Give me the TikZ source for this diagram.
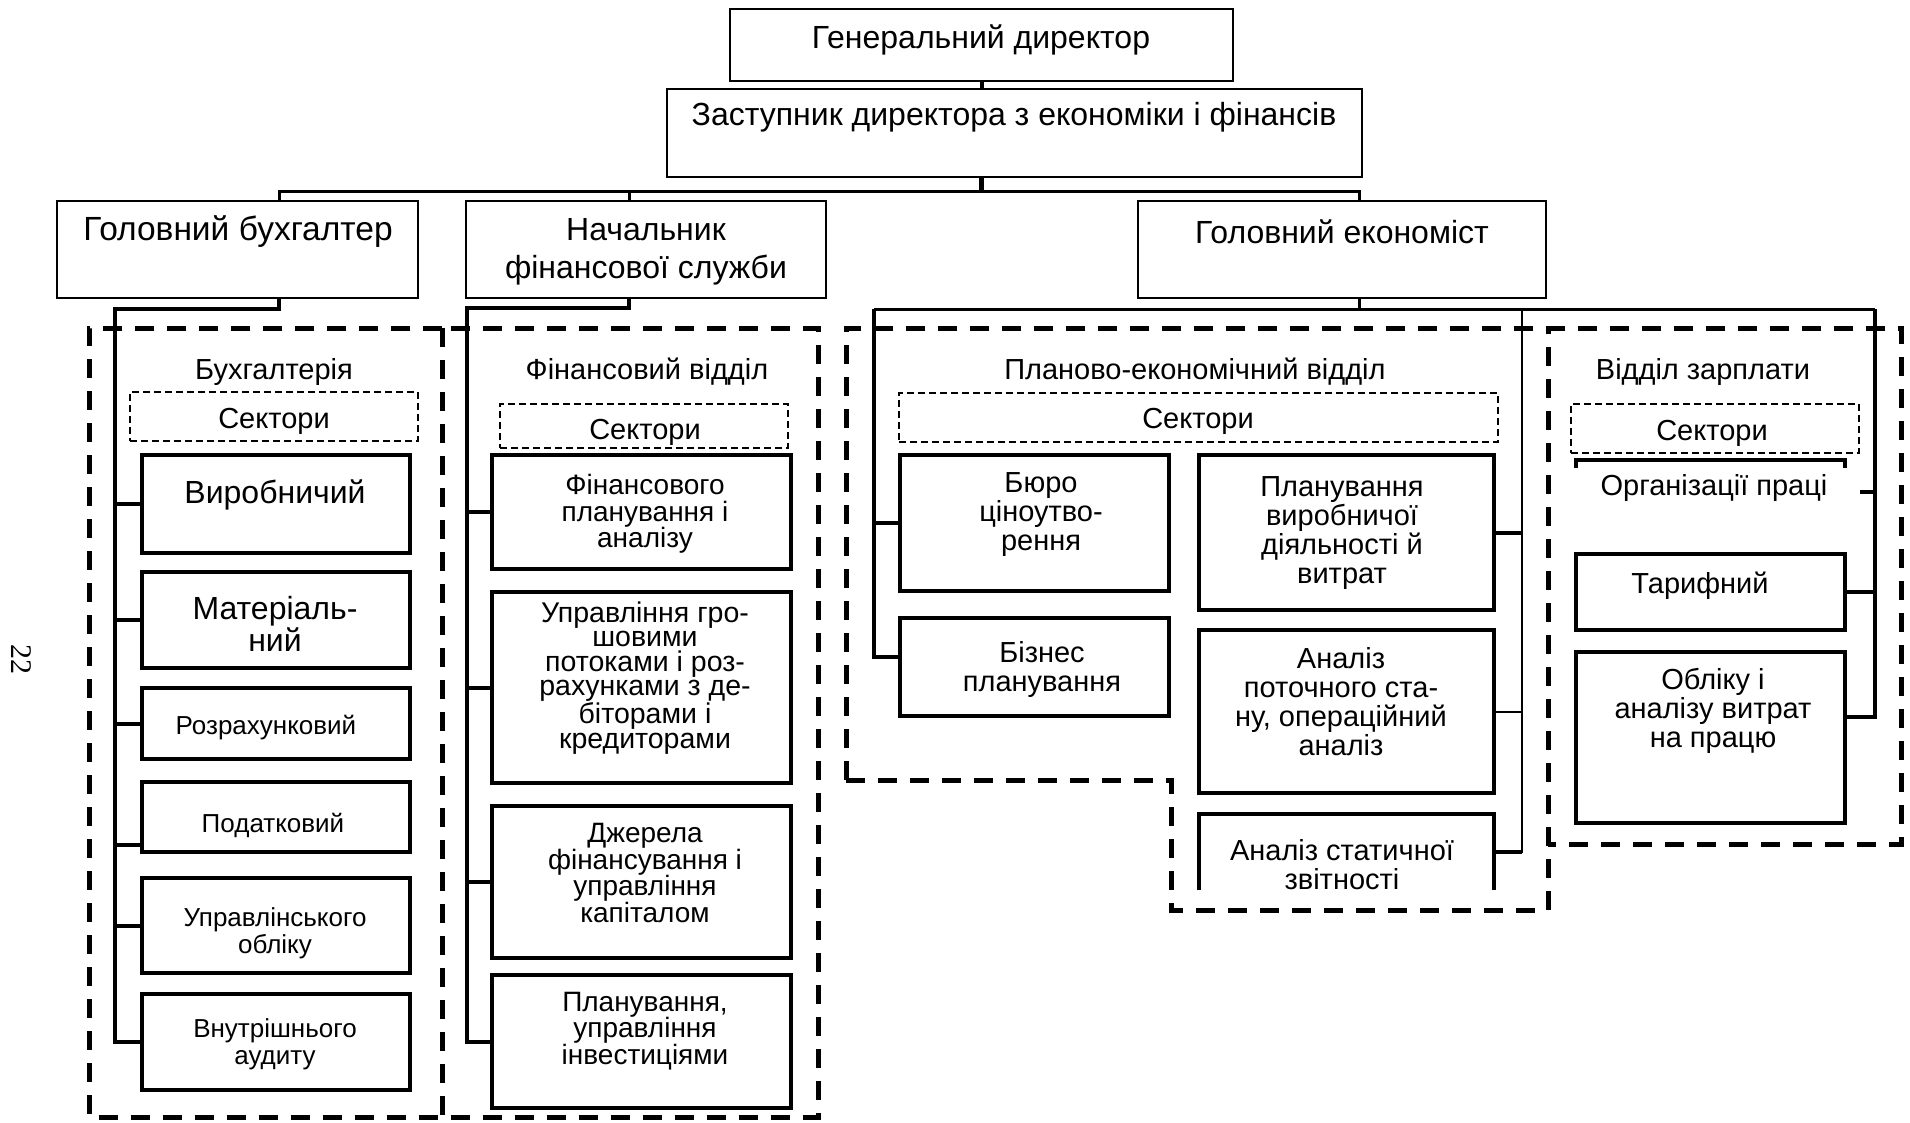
\documentclass[tikz,border=0pt]{standalone}
\usepackage{fontspec}
\setmainfont{Liberation Sans}
\newfontfamily\serifnum{Liberation Serif}
\usetikzlibrary{fit}
\begin{document}
\begin{tikzpicture}[x=1pt,y=-1pt,
  frame/.style={draw, line width=2pt, inner sep=0pt},
  unit/.style={draw, line width=4.5pt, inner sep=0pt},
  openunit/.style={inner sep=0pt},
  unitedge/.style={line width=4.5pt},
  sectors/.style={draw, line width=1.5pt, dash pattern=on 7pt off 4pt, inner sep=0pt},
  dept/.style={line width=5pt, dash pattern=on 19pt off 13pt},
  busline/.style={line width=3pt},
  spine/.style={line width=4pt},
  fine/.style={line width=2pt},
  lbl/.style={align=center, inner sep=0pt},
  tmain/.style={lbl, font=\fontsize{32}{38}\selectfont},
  ttitle/.style={lbl, font=\fontsize{29}{32}\selectfont},
  tlarge/.style={lbl, font=\fontsize{32}{28}\selectfont},
  tsmall/.style={lbl, font=\fontsize{26}{27}\selectfont},
  tmid/.style={lbl, font=\fontsize{28}{26.5}\selectfont},
  tplan/.style={lbl, font=\fontsize{29}{29}\selectfont},
]
\useasboundingbox (0,0) rectangle (1910,1123);
\fill[white] (0,0) rectangle (1910,1123);

% ---------- top management ----------
\node[frame, fit={(730,9) (1233,81)}] (gen) {};
\node[tmain] (gent) at (981,40) {Генеральний директор};
\node[frame, fit={(667,89) (1362,177)}] (zast) {};
\node[tmain] (zastt) at (1014,117) {Заступник директора з економіки і фінансів};

\node[frame, fit={(57,201) (418,298)}] (buh) {};
\node[tmain, font=\fontsize{33.5}{38}\selectfont] (buht) at (238,232) {Головний бухгалтер};
\node[frame, fit={(466,201) (826,298)}] (nach) {};
\node[tmain] (nacht) at (646,252) {Начальник\\фінансової служби};
\node[frame, fit={(1138,201) (1546,298)}] (econ) {};
\node[tmain] (econt) at (1342,232) {Головний економіст};

% ---------- department outlines ----------
\draw[dept] (442,328) -- (89,328) -- (89,1117) -- (818,1117) -- (818,328) -- cycle;
\draw[dept] (442,328) -- (442,1117);
\draw[dept] (846,780) -- (846,328) -- (1901,328) -- (1901,844) -- (1548,844);
\draw[dept] (846,780) -- (1171,780) -- (1171,910) -- (1548,910) -- (1548,328);

% ---------- department titles and sector headers ----------
\node[ttitle] (buhdep) at (274,372) {Бухгалтерія};
\node[ttitle] (findep) at (647,372) {Фінансовий відділ};
\node[ttitle] (pldep) at (1195,372) {Планово-економічний відділ};
\node[ttitle] (zrdep) at (1703,372) {Відділ зарплати};

\node[sectors, fit={(130,392) (418,441)}] (bs) {};
\node[ttitle] (bst) at (274,421) {Сектори};
\node[sectors, fit={(500,404) (788,448)}] (fs) {};
\node[ttitle] (fst) at (645,432) {Сектори};
\node[sectors, fit={(899,393) (1498,442)}] (ps) {};
\node[ttitle] (pst) at (1198,421) {Сектори};
\node[sectors, fit={(1571,404) (1859,453)}] (zs) {};
\node[ttitle] (zst) at (1712,433) {Сектори};

% ---------- accounting sectors ----------
\node[unit, fit={(142,455) (410,553)}] (b1) {};
\node[tlarge] (b1t) at (275,495) {Виробничий};
\node[unit, fit={(142,572) (410,668)}] (b2) {};
\node[tlarge] (b2t) at (275,624) {Матеріаль-\\ний};
\node[unit, fit={(142,688) (410,759)}] (b3) {};
\node[tsmall] (b3t) at (266,728) {Розрахунковий};
\node[unit, fit={(142,782) (410,852)}] (b4) {};
\node[tsmall] (b4t) at (273,825) {Податковий};
\node[unit, fit={(142,878) (410,973)}] (b5) {};
\node[tsmall] (b5t) at (275,933) {Управлінського\\обліку};
\node[unit, fit={(142,994) (410,1090)}] (b6) {};
\node[tsmall] (b6t) at (275,1044) {Внутрішнього\\аудиту};

% ---------- finance sectors ----------
\node[unit, fit={(492,455) (791,569)}] (f1) {};
\node[tmid] (f1t) at (645,514) {Фінансового\\планування і\\аналізу};
\node[unit, fit={(492,592) (791,783)}] (f2) {};
\node[lbl, font=\fontsize{28.5}{24.5}\selectfont] (f2t) at (645,678) {Управління гро-\\шовими\\потоками і роз-\\рахунками з де-\\біторами і\\кредиторами};
\node[unit, fit={(492,806) (791,958)}] (f3) {};
\node[tmid] (f3t) at (645,873) {Джерела\\фінансування і\\управління\\капіталом};
\node[unit, fit={(492,975) (791,1108)}] (f4) {};
\node[tmid] (f4t) at (645,1031) {Планування,\\управління\\інвестиціями};

% ---------- planning sectors ----------
\node[unit, fit={(900,455) (1169,591)}] (p1) {};
\node[tplan] (p1t) at (1041,515) {Бюро\\ціноутво-\\рення};
\node[unit, fit={(900,618) (1169,716)}] (p2) {};
\node[tplan] (p2t) at (1042,669) {Бізнес\\планування};
\node[unit, fit={(1199,455) (1494,610)}] (p3) {};
\node[tplan] (p3t) at (1342,533) {Планування\\виробничої\\діяльності й\\витрат};
\node[unit, fit={(1199,630) (1494,793)}] (p4) {};
\node[tplan] (p4t) at (1341,702) {Аналіз\\поточного ста-\\ну, операційний\\аналіз};
\node[openunit, fit={(1199,814) (1494,890)}] (p5) {};
\draw[unitedge] (p5.south west) |- (p5.north) -| (p5.south east);
\node[tplan] (p5t) at (1342,865) {Аналіз статичної\\звітності};

% ---------- payroll sectors ----------
\node[openunit, fit={(1576,460) (1845,520)}] (z1) {};
\draw[unitedge] (z1.north west) ++(0,8) -- ++(0,-8) -- (z1.north east) -- ++(0,8);
\node[tplan] (z1t) at (1714,488) {Організації праці};
\node[unit, fit={(1576,554) (1845,630)}] (z2) {};
\node[tplan] (z2t) at (1700,586) {Тарифний};
\node[unit, fit={(1576,652) (1845,823)}] (z3) {};
\node[tplan] (z3t) at (1713,711) {Обліку і\\аналізу витрат\\на працю};

% ---------- page number ----------
\node[lbl, font=\serifnum\fontsize{30}{30}\selectfont, rotate=-90] (pagenum) at (21,659) {22};

% ---------- connectors ----------
\coordinate (busL) at (279,192);
\coordinate (busR) at (1359,192);
\coordinate (buhturn) at (279,309);
\coordinate (buhsp) at (115,309);
\coordinate (finturn) at (629,308);
\coordinate (finsp) at (467,308);
\coordinate (plsp) at (874,309);
\coordinate (midsp) at (1522,309);
\coordinate (zrsp) at (1875,309);
\coordinate (b4in) at ([yshift=9pt]b4.south west);
\coordinate (p2in) at ([yshift=10pt]p2.west);
\coordinate (z3in) at ([yshift=21pt]z3.east);
\coordinate (z1in) at ([xshift=15pt,yshift=-2pt]z1.east);

\draw[spine] (gen.south) -- (gen.south |- zast.north);
\draw[line width=5pt] (gen.south |- zast.south) -- (gen.south |- busL);
\draw[busline] (busL |- buh.north) -- (busL) -- (busR) -- (busR |- econ.north);
\draw[busline] (nach.north -| finturn) -- (finturn |- busL);

\draw[spine] (buh.south -| buhturn) -- (buhturn) -- (buhsp) |- (b6.west);
\foreach \n in {b1,b2,b3,b5} \draw[spine] (buhsp |- \n.west) -- (\n.west);
\draw[spine] (buhsp |- b4in) -- (b4in);

\draw[spine] (nach.south -| finturn) -- (finturn) -- (finsp) |- (f4.west);
\foreach \n in {f1,f2,f3} \draw[spine] (finsp |- \n.west) -- (\n.west);

\draw[busline] (econ.south -| busR) -- (busR |- plsp);
\draw[busline] (plsp) -- (zrsp);
\draw[spine] (plsp) |- (p2in);
\draw[spine] (plsp |- p1.west) -- (p1.west);
\draw[fine] (midsp) |- (p5.east);
\draw[spine] (midsp |- p5.east) -- (p5.east);
\draw[spine] (midsp |- p3.east) -- (p3.east);
\draw[fine] (midsp |- p4.east) -- (p4.east);
\draw[spine] (zrsp) |- (z3in);
\draw[spine] (zrsp |- z2.east) -- (z2.east);
\draw[spine] (zrsp |- z1in) -- (z1in);
\end{tikzpicture}
\end{document}
